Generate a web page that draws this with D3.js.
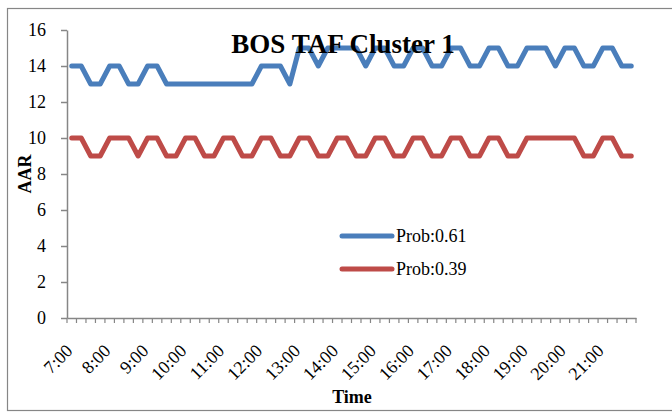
<!DOCTYPE html>
<html>
<head>
<meta charset="utf-8">
<script src="https://cdn.jsdelivr.net/npm/d3@7"></script>
<style>
  html, body { margin: 0; padding: 0; background: #fff; }
  svg { display: block; }
  text { font-family: "Liberation Serif", "Times New Roman", serif; fill: #000; }
</style>
</head>
<body>
<svg id="chart" width="672" height="412"></svg>
<script>
// ---- data ----
const categories = [
  "7:00","7:15","7:30","7:45","8:00","8:15","8:30","8:45",
  "9:00","9:15","9:30","9:45","10:00","10:15","10:30","10:45",
  "11:00","11:15","11:30","11:45","12:00","12:15","12:30","12:45",
  "13:00","13:15","13:30","13:45","14:00","14:15","14:30","14:45",
  "15:00","15:15","15:30","15:45","16:00","16:15","16:30","16:45",
  "17:00","17:15","17:30","17:45","18:00","18:15","18:30","18:45",
  "19:00","19:15","19:30","19:45","20:00","20:15","20:30","20:45",
  "21:00","21:15","21:30","21:45"
];
const prob061 = [
  14,14,13,13,14,14,13,13,14,14,
  13,13,13,13,13,13,13,13,13,13,
  14,14,14,13,15,15,14,15,15,15,
  15,14,15,15,14,14,15,15,14,14,
  15,15,14,14,15,15,14,14,15,15,
  15,14,15,15,14,14,15,15,14,14
];
const prob039 = [
  10,10,9,9,10,10,10,9,10,10,
  9,9,10,10,9,9,10,10,9,9,
  10,10,9,9,10,10,9,9,10,10,
  9,9,10,10,9,9,10,10,9,9,
  10,10,9,9,10,10,9,9,10,10,
  10,10,10,10,9,9,10,10,9,9
];
const seriesNames = ["Prob:0.61", "Prob:0.39"];
const seriesColors = ["#4A7EBB", "#BE4B48"];
const yTicks = [0, 2, 4, 6, 8, 10, 12, 14, 16];
const tickLabels = ["7:00","8:00","9:00","10:00","11:00","12:00","13:00","14:00",
  "15:00","16:00","17:00","18:00","19:00","20:00","21:00"];
const chartTitle = "BOS TAF Cluster 1";
const xTitle = "Time";
const yTitle = "AAR";

// ---- layout ----
const svg = d3.select("#chart");
const plot = { left: 67, right: 636, top: 30, bottom: 318 };
const axisColor = "#868686";

// outer chart border
svg.append("rect")
  .attr("x", 7.5).attr("y", 8.5)
  .attr("width", 667).attr("height", 402)
  .attr("fill", "none").attr("stroke", axisColor).attr("stroke-width", 1.2);

const x = d3.scaleBand().domain(categories).range([plot.left, plot.right]).padding(0);
const y = d3.scaleLinear().domain([0, 16]).range([plot.bottom, plot.top]);
const cx = c => x(c) + x.bandwidth() / 2;

// y axis
const yAxis = svg.append("g")
  .attr("transform", `translate(${plot.left},0)`)
  .call(d3.axisLeft(y).tickValues(yTicks).tickSize(6).tickPadding(15).tickSizeOuter(0));
yAxis.select(".domain").attr("stroke", axisColor).attr("stroke-width", 1.5);
yAxis.selectAll(".tick line").attr("stroke", axisColor).attr("stroke-width", 1.5);
yAxis.selectAll(".tick text")
  .attr("font-family", "Liberation Serif").attr("font-size", 18).attr("fill", "#000");

// x axis: line, boundary ticks, rotated hourly labels
const xAxis = svg.append("g")
  .attr("transform", `translate(0,${plot.bottom})`)
  .call(d3.axisBottom(x).tickSize(0).tickFormat("").tickSizeOuter(0));
xAxis.select(".domain").attr("stroke", axisColor).attr("stroke-width", 1.5);
xAxis.selectAll(".tick").remove();
const boundaries = categories.map(c => x(c)).concat([x.range()[1]]);
xAxis.selectAll("line.bt").data(boundaries).join("line")
  .attr("class", "bt")
  .attr("x1", d => d).attr("x2", d => d)
  .attr("y1", 0).attr("y2", 5)
  .attr("stroke", axisColor).attr("stroke-width", 1.2);

svg.append("g").selectAll("text").data(tickLabels).join("text")
  .attr("transform", d => `translate(${cx(d) + 2},352) rotate(-45)`)
  .attr("text-anchor", "end")
  .attr("font-size", 18)
  .text(d => d);

// series lines
const series = [prob061, prob039];
const line = d3.line()
  .x((d, i) => cx(categories[i]))
  .y(d => y(d));
svg.append("g").selectAll("path").data(series).join("path")
  .attr("d", d => line(d))
  .attr("fill", "none")
  .attr("stroke", (d, i) => seriesColors[i])
  .attr("stroke-width", 5)
  .attr("stroke-linejoin", "round")
  .attr("stroke-linecap", "round");

// axis titles
svg.append("text")
  .attr("x", 352).attr("y", 403)
  .attr("text-anchor", "middle")
  .attr("font-size", 18).attr("font-weight", "bold")
  .text(xTitle);
svg.append("text")
  .attr("transform", "translate(31,174) rotate(-90)")
  .attr("text-anchor", "middle")
  .attr("font-size", 18).attr("font-weight", "bold")
  .text(yTitle);

// chart title (drawn over lines)
svg.append("text")
  .attr("x", 343).attr("y", 53)
  .attr("text-anchor", "middle")
  .attr("font-size", 27).attr("font-weight", "bold")
  .text(chartTitle);

// legend
const legendY = [236, 269];
const lg = svg.append("g");
lg.selectAll("line").data(seriesNames).join("line")
  .attr("x1", 342).attr("x2", 392)
  .attr("y1", (d, i) => legendY[i]).attr("y2", (d, i) => legendY[i])
  .attr("stroke", (d, i) => seriesColors[i])
  .attr("stroke-width", 5)
  .attr("stroke-linecap", "round");
lg.selectAll("text").data(seriesNames).join("text")
  .attr("x", 396)
  .attr("y", (d, i) => legendY[i] + 6)
  .attr("font-size", 18)
  .text(d => d);
</script>
</body>
</html>
